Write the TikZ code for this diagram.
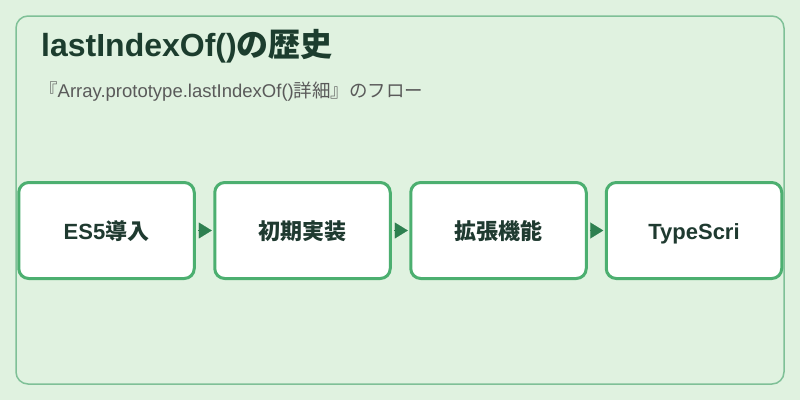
\documentclass[tikz,border=0pt]{standalone}
\usepackage{fontspec}
\setmainfont{Liberation Sans}
\newfontfamily\cjk{Noto Sans CJK JP}
\usetikzlibrary{arrows.meta}
\definecolor{bgfill}{HTML}{E0F2E0}
\definecolor{frameline}{HTML}{7FC097}
\definecolor{boxline}{HTML}{4CAF70}
\definecolor{arrowfill}{HTML}{2E8050}
\definecolor{titletext}{HTML}{1C3D2E}
\definecolor{subtext}{HTML}{5A5A5A}
\definecolor{boxtext}{HTML}{1F3A30}
\begin{document}
\begin{tikzpicture}[x=1pt, y=-1pt, >={Triangle[length=13pt, width=16pt]}]
    \useasboundingbox (0, 0) rectangle (800, 400);
    \fill[bgfill] (0, 0) rectangle (800, 400);
    \draw[frameline, line width = 1.5pt, rounded corners = 12pt] (16, 16) rectangle (784, 384);

    \tikzstyle{step box} = [draw = boxline, line width = 3pt, fill = white, rounded corners = 10pt, minimum width = 175.5pt, minimum height = 96pt, inner sep = 0pt, text height = 21pt, text depth = 4pt, font = \fontsize{22pt}{26pt}\selectfont\bfseries, text = boxtext]

    \node[anchor = base west, text = titletext, inner sep = 0pt, font = \fontsize{32pt}{36pt}\selectfont\bfseries] (title) at (41, 56) {lastIndexOf(){\cjk の歴史}};
    \node[anchor = base west, text = subtext, inner sep = 0pt, font = \fontsize{18.5pt}{22pt}\selectfont] (sub) at (39, 97) {{\cjk 『}Array.prototype.lastIndexOf(){\cjk 詳細』のフロー}};

    \node[step box] (a) at (106.5, 230.5) {ES5{\cjk 導入}};
    \node[step box] (b) at (302.5, 230.5) {\cjk 初期実装};
    \node[step box] (c) at (498.5, 230.5) {\cjk 拡張機能};
    \node[step box] (d) at (694, 230.5) {TypeScri};

    \draw[->, arrowfill, line width = 0.1pt, shorten < = 2pt, shorten > = 1.5pt] (a) -- (b);
    \draw[->, arrowfill, line width = 0.1pt, shorten < = 2pt, shorten > = 1.5pt] (b) -- (c);
    \draw[->, arrowfill, line width = 0.1pt, shorten < = 2pt, shorten > = 1.5pt] (c) -- (d);
\end{tikzpicture}
\end{document}
